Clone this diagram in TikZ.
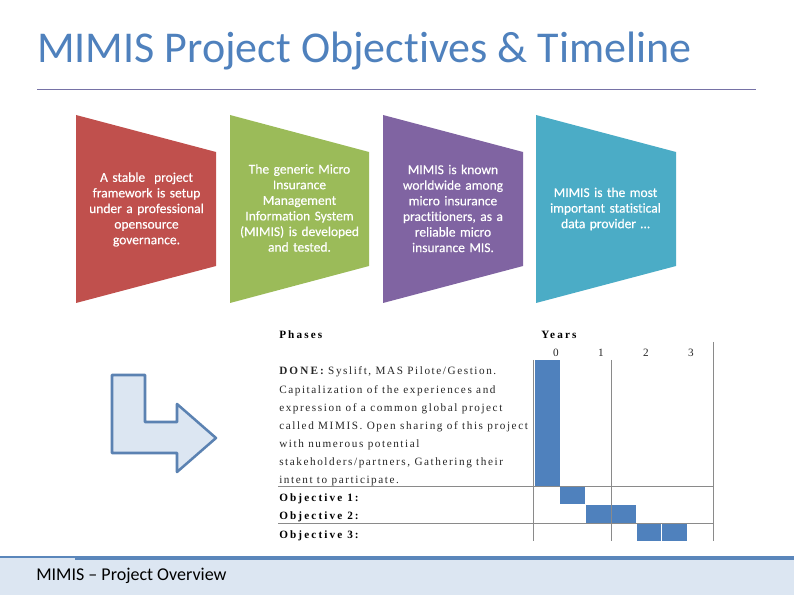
\documentclass[tikz,border=0pt]{standalone}
\usepackage{fontspec}
\setmainfont{Carlito}
\newfontfamily\titlefont[Ligatures=CommonOff]{Carlito}
\newfontfamily\boxfont[FakeBold=0.35,Ligatures=CommonOff]{Carlito}
\newfontfamily\tabfont[LetterSpace=14]{Liberation Serif}
\newfontfamily\tabbold[LetterSpace=19]{Liberation Serif Bold}
\definecolor{titleblue}{HTML}{4F81BD}
\definecolor{rulecol}{HTML}{7672A6}
\definecolor{footband}{HTML}{DCE6F2}
\definecolor{footline}{HTML}{5A86BB}
\definecolor{arrowline}{HTML}{5B82B2}
\definecolor{cred}{HTML}{C0504D}
\definecolor{cgreen}{HTML}{9BBB59}
\definecolor{cpurple}{HTML}{8064A2}
\definecolor{cteal}{HTML}{4BACC6}
\definecolor{barblue}{HTML}{4F81BD}
\definecolor{gridcol}{HTML}{8A8A8A}
\tikzset{
  boxtext/.style={text=white,align=center,font=\fontsize{10.1}{11.7}\boxfont,inner sep=0pt,text width=100pt},
  tabline/.style={anchor=base west,inner sep=0pt,font=\fontsize{8.4}{9}\tabfont,text=black!85},
  tabhead/.style={anchor=base west,inner sep=0pt,font=\fontsize{8.4}{9}\tabbold,text=black},
  yearnum/.style={anchor=base,inner sep=0pt,font=\fontsize{8.4}{9}\tabfont,text=black!85},
  grid line/.style={draw=gridcol,line width=0.7pt},
  ganttbar/.style={fill=barblue,draw=none}
}
\begin{document}
\begin{tikzpicture}[x=0.75pt,y=-0.75pt]
\useasboundingbox (0,0) rectangle (794,595);
\fill[white] (0,0) rectangle (794,595);
% title
\node[anchor=base west,inner sep=0pt,text=titleblue,font=\fontsize{33}{35}\titlefont] (title) at (37,63) {MIMIS Project Objectives \& Timeline};
\draw[rulecol,line width=1.1pt] (37,89.5) -- (756,89.5);
% trapezoids
\fill[cred] (76,115) -- (216,152) -- (216,266) -- (76,303) -- cycle;
\fill[cgreen] (230,115) -- (369,152) -- (369,266) -- (230,303) -- cycle;
\fill[cpurple] (383,115) -- (523,152) -- (523,266) -- (383,303) -- cycle;
\fill[cteal] (536,115) -- (676,152) -- (676,266) -- (536,303) -- cycle;
\node[boxtext] (t1) at (146.5,209.5) {A stable\ \ project\\framework is setup\\under a professional\\opensource\\governance.};
\node[boxtext] (t2) at (299.5,208) {The generic Micro\\Insurance\\Management\\Information System\\(MIMIS) is developed\\and tested.};
\node[boxtext] (t3) at (453,208.5) {MIMIS is known\\worldwide among\\micro insurance\\practitioners, as a\\reliable micro\\insurance MIS.};
\node[boxtext] (t4) at (605.5,209) {MIMIS is the most\\important statistical\\data provider …};
% arrow
\draw[draw=arrowline,fill=footband,line width=1.9pt,line join=round] (112,375) -- (145,375) -- (145,422) -- (177,422) -- (177,404) -- (216,438) -- (177,472) -- (177,453) -- (112,453) -- cycle;
% gantt bars
\fill[ganttbar] (535,360) rectangle (560,486);
\fill[ganttbar] (560,486) rectangle (585,504);
\fill[ganttbar] (586,505) rectangle (636,523);
\fill[ganttbar] (637,523) rectangle (661,541);
\fill[ganttbar] (662,523) rectangle (687,541);
% gantt grid
\draw[grid line] (533.5,360) -- (533.5,541);
\draw[grid line] (611,360) -- (611,541);
\draw[grid line] (713,342) -- (713,541);
\draw[grid line] (278,486) -- (713,486);
\draw[grid line] (278,523) -- (713,523);
% table text
\node[tabhead] (phases) at (279,339) {Phases};
\node[tabhead] (years) at (541,339) {Years};
\node[yearnum] (y0) at (556,357) {0};
\node[yearnum] (y1) at (601,357) {1};
\node[yearnum] (y2) at (646,357) {2};
\node[yearnum] (y3) at (691,357) {3};
\node[tabline] (l1) at (279,375) {{\tabbold DONE:} Syslift, MAS Pilote/Gestion.};
\node[tabline] (l2) at (279,394) {Capitalization of the experiences and};
\node[tabline] (l3) at (279,412) {expression of a common global project};
\node[tabline] (l4) at (279,430) {called MIMIS. Open sharing of this project};
\node[tabline] (l5) at (279,448) {with numerous potential};
\node[tabline] (l6) at (279,466) {stakeholders/partners, Gathering their};
\node[tabline] (l7) at (279,484) {intent to participate.};
\node[tabhead] (o1) at (279,502) {Objective 1:};
\node[tabhead] (o2) at (279,520) {Objective 2:};
\node[tabhead] (o3) at (279,539) {Objective 3:};
% footer
\fill[footband] (0,558) rectangle (794,595);
\fill[footline] (0,556.5) rectangle (75,558.5);
\fill[footline] (75,556) rectangle (794,560);
\node[anchor=base west,inner sep=0pt,text=black,font=\fontsize{13.5}{15}\titlefont] (foot) at (36,581) {MIMIS – Project Overview};
\end{tikzpicture}
\end{document}
